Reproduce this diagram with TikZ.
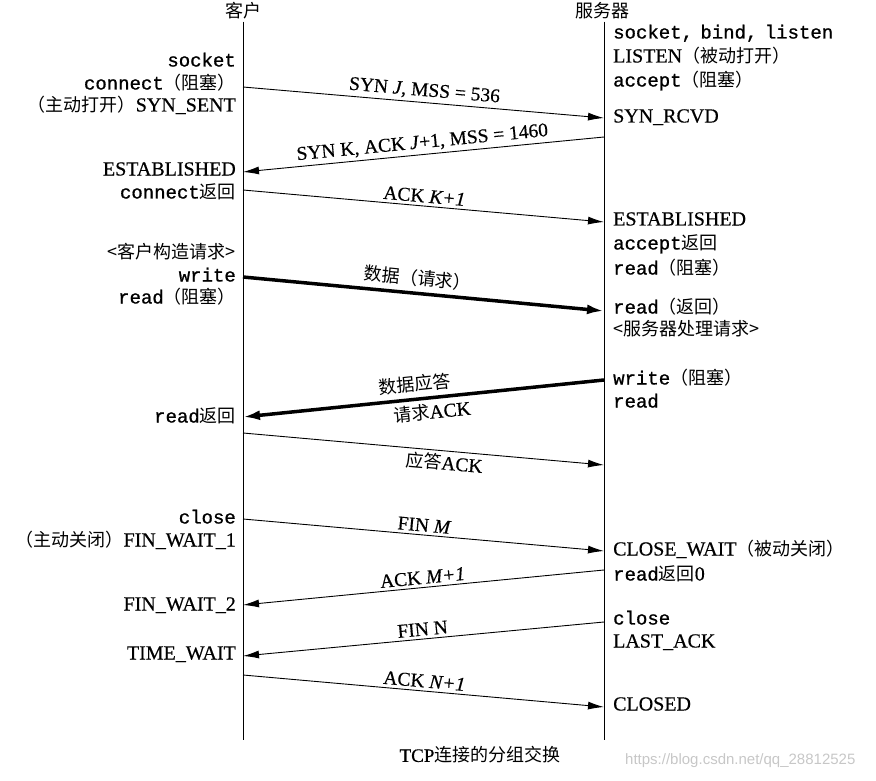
\documentclass[tikz,border=0pt]{standalone}
\usepackage{fontspec}
\setmainfont{Liberation Serif}[FakeBold=0.5]
\setmonofont{Liberation Mono}[FakeBold=0.9]
\newfontfamily\zhfont{Noto Sans CJK SC}
\newfontfamily\wmfont{Liberation Sans}
\usetikzlibrary{arrows.meta}
\newcommand\zh[1]{{\zhfont\fontsize{18}{20}\selectfont #1}}
\newcommand\mo[1]{{\ttfamily\fontsize{19}{21}\selectfont #1}}
\begin{document}
\begin{tikzpicture}[x=1pt,y=-1pt,
  txt/.style={font=\fontsize{20}{22}\selectfont, inner sep=0pt, text height=13pt, text depth=4pt},
  cl/.style={txt, anchor=east},
  sv/.style={txt, anchor=west},
  life/.style={line width=1pt},
  msg/.style={line width=0.9pt, -{Latex[length=16pt,width=8pt]}},
  heavy/.style={line width=3.5pt, -{Latex[length=17pt,width=10pt]}},
  lab/.style={font=\fontsize{19.5}{21}\selectfont, inner sep=3pt, sloped},
]
\useasboundingbox (0,0) rectangle (876,781);
% headers and lifelines
\node[txt, anchor=center] (hc) at (243,13) {\zh{客户}};
\node[txt, anchor=center] (hs) at (602,13) {\zh{服务器}};
\coordinate (cbot) at (243,740);
\coordinate (sbot) at (604,740);
\draw[life] (hc.south -| cbot) -- (cbot);
\draw[life] (hs.south -| sbot) -- (sbot);

% client labels
\node[cl] (c1) at (236,62) {\mo{socket}};
\node[cl] (c2) at (236,85) {\mo{connect}\zh{（阻塞）}};
\node[cl] (c3) at (236,107) {\zh{（主动打开）}SYN\_SENT};
\node[cl] (c4) at (236,171) {ESTABLISHED};
\node[cl] (c5) at (236,194) {\mo{connect}\zh{返回}};
\node[cl] (c6) at (236,254) {\zh{<客户构造请求>}};
\node[cl] (c7) at (236,277) {\mo{write}};
\node[cl] (c8) at (236,299) {\mo{read}\zh{（阻塞）}};
\node[cl] (c9) at (236,418) {\mo{read}\zh{返回}};
\node[cl] (c10) at (236,519) {\mo{close}};
\node[cl] (c11) at (236,542) {\zh{（主动关闭）}FIN\_WAIT\_1};
\node[cl] (c12) at (236,606) {FIN\_WAIT\_2};
\node[cl] (c13) at (236,655) {TIME\_WAIT};

% server labels
\node[sv] (s1) at (613,34) {\mo{socket,\hspace{-4pt} bind,\hspace{-4pt} listen}};
\node[sv] (s2) at (613,58) {LISTEN\zh{（被动打开）}};
\node[sv] (s3) at (613,82) {\mo{accept}\zh{（阻塞）}};
\node[sv] (s4) at (613,118) {SYN\_RCVD};
\node[sv] (s5) at (613,221) {ESTABLISHED};
\node[sv] (s6) at (613,245) {\mo{accept}\zh{返回}};
\node[sv] (s7) at (613,270) {\mo{read}\zh{（阻塞）}};
\node[sv] (s8) at (613,309) {\mo{read}\zh{（返回）}};
\node[sv] (s9) at (613,331) {\zh{<服务器处理请求>}};
\node[sv] (s10) at (613,380) {\mo{write}\zh{（阻塞）}};
\node[sv] (s11) at (613,403) {\mo{read}};
\node[sv] (s12) at (613,551) {CLOSE\_WAIT\zh{（被动关闭）}};
\node[sv] (s13) at (613,576) {\mo{read}\zh{返回}0};
\node[sv] (s14) at (613,620) {\mo{close}};
\node[sv] (s15) at (613,643) {LAST\_ACK};
\node[sv] (s16) at (613,706) {CLOSED};

% message end points on the lifelines
\coordinate (a1) at (243,87);  \coordinate (b1) at (604,118);
\coordinate (b2) at (604,137); \coordinate (a2) at (243,172);
\coordinate (a3) at (243,190); \coordinate (b3) at (604,222);
\coordinate (a4) at (243,277); \coordinate (b4) at (604,311);
\coordinate (b5) at (604,380); \coordinate (a5) at (243,417);
\coordinate (a6) at (243,433); \coordinate (b6) at (604,465);
\coordinate (a7) at (243,519); \coordinate (b7) at (604,551);
\coordinate (b8) at (604,570); \coordinate (a8) at (243,605);
\coordinate (b9) at (604,622); \coordinate (a9) at (243,656);
\coordinate (a10) at (243,675); \coordinate (b10) at (604,707);

% messages
\draw[msg] (a1) -- node[lab, above] (m1) {SYN \textit{J}, MSS = 536} (b1);
\draw[msg] (b2) -- node[lab, above] (m2) {SYN K, ACK \textit{J}+1, MSS = 1460} (a2);
\draw[msg] (a3) -- node[lab, above] (m3) {ACK \textit{K+1}} (b3);
\draw[heavy] (a4) -- node[lab, above, pos=0.48, inner sep=5pt] (m4) {\zh{数据（请求）}} (b4);
\draw[heavy] (b5) -- node[lab, above, pos=0.52, inner sep=5pt] (m5a) {\zh{数据应答}}
                    node[lab, below, pos=0.48, inner sep=4pt] (m5b) {\zh{请求}ACK} (a5);
\draw[msg] (a6) -- node[lab, below, pos=0.56] (m6) {\zh{应答}ACK} (b6);
\draw[msg] (a7) -- node[lab, above] (m7) {FIN \textit{M}} (b7);
\draw[msg] (b8) -- node[lab, above] (m8) {ACK \textit{M+1}} (a8);
\draw[msg] (b9) -- node[lab, above] (m9) {FIN N} (a9);
\draw[msg] (a10) -- node[lab, above] (m10) {ACK \textit{N+1}} (b10);

% caption and watermark
\node[font=\fontsize{19}{21}\selectfont, inner sep=0pt] (cap) at (480,755) {TCP\zh{连接的分组交换}};
\node[font=\wmfont\fontsize{15}{17}\selectfont, text=black!22, anchor=west, inner sep=0pt] (wm) at (625,761) {https://blog.csdn.net/qq\_28812525};
\end{tikzpicture}
\end{document}
